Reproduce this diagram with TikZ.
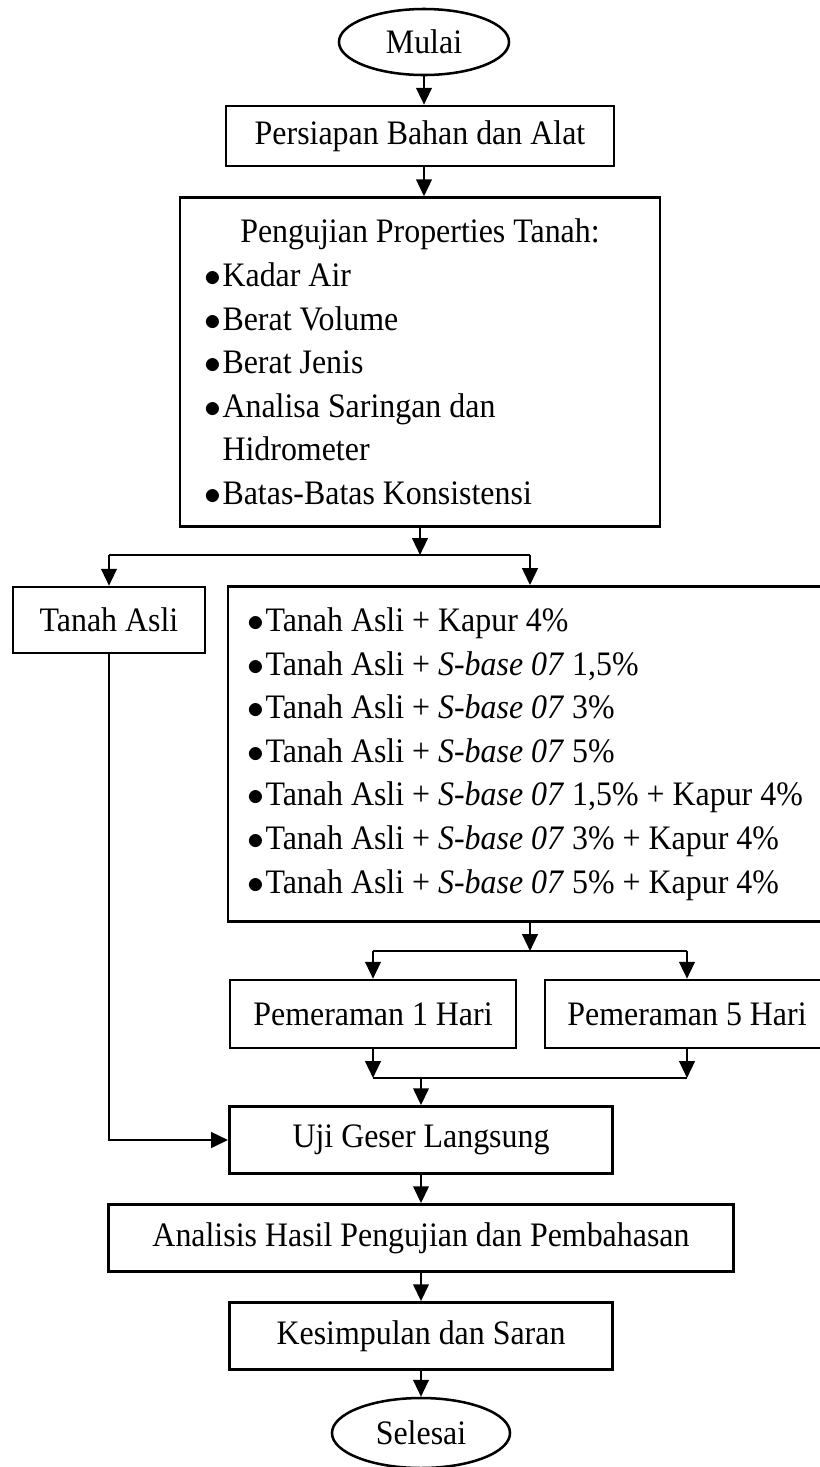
\documentclass[tikz,border=0pt]{standalone}
\usepackage{fontspec}
\setmainfont[FakeStretch=0.93]{Liberation Serif}
\usetikzlibrary{shapes.geometric,arrows.meta}

\newcommand{\btr}{\makebox[0.22cm][l]{$\bullet$}}

\begin{document}
\begin{tikzpicture}[x=0.0125cm, y=-0.0125cm,
    kotak/.style={draw, line width=0.9pt, rectangle, inner sep=0pt, align=center,
        font=\fontsize{12.2}{15.5}\selectfont},
    ujung/.style={draw, line width=0.9pt, ellipse, inner sep=0pt,
        font=\fontsize{12.2}{15.5}\selectfont},
    daftar/.style={kotak, align=flush left},
    panah/.style={line width=0.9pt, -{Triangle[length=6pt,width=5.5pt]}},
    garis/.style={line width=0.9pt}]
    \useasboundingbox (0,0) rectangle (820,1467);

    % Awal
    \node[ujung, minimum width=2.125cm, minimum height=0.825cm] (mulai) at (424,42) {Mulai};
    \node[kotak, minimum width=4.85cm, minimum height=0.75cm] (persiapan) at (420,136) {Persiapan Bahan dan Alat};

    % Pengujian properties
    \node[daftar, text width=5.375cm, inner xsep=0.3125cm, minimum height=4.11cm] (pengujian) at (420,362) {%
        \makebox[5.375cm]{Pengujian Properties Tanah:}\\
        \btr Kadar Air\\
        \btr Berat Volume\\
        \btr Berat Jenis\\
        \btr Analisa Saringan dan\\
        \hspace*{0.22cm}Hidrometer\\
        \btr Batas-Batas Konsistensi};

    % Cabang pertama
    \node[kotak, minimum width=2.4cm, minimum height=0.825cm] (tanah) at (109,620) {Tanah Asli};
    \node[daftar, text width=7.5cm, inner xsep=0.25cm, minimum height=4.19cm] (campuran) at (548,754) {%
        \btr Tanah Asli + Kapur 4\%\\
        \btr Tanah Asli + \textit{S-base 07} 1,5\%\\
        \btr Tanah Asli + \textit{S-base 07} 3\%\\
        \btr Tanah Asli + \textit{S-base 07} 5\%\\
        \btr Tanah Asli + \textit{S-base 07} 1,5\% + Kapur 4\%\\
        \btr Tanah Asli + \textit{S-base 07} 3\% + Kapur 4\%\\
        \btr Tanah Asli + \textit{S-base 07} 5\% + Kapur 4\%};

    % Pemeraman
    \node[kotak, minimum width=3.575cm, minimum height=0.85cm] (hari1) at (373,1014) {Pemeraman 1 Hari};
    \node[kotak, minimum width=3.55cm, minimum height=0.85cm] (hari5) at (687,1014) {Pemeraman 5 Hari};

    % Akhir
    \node[kotak, minimum width=4.79cm, minimum height=0.84cm] (uji) at (421,1140) {Uji Geser Langsung};
    \node[kotak, minimum width=7.81cm, minimum height=0.84cm] (analisis) at (421,1238) {Analisis Hasil Pengujian dan Pembahasan};
    \node[kotak, minimum width=4.79cm, minimum height=0.84cm] (kesimpulan) at (421,1336) {Kesimpulan dan Saran};
    \node[ujung, minimum width=2.225cm, minimum height=0.875cm] (selesai) at (421,1433) {Selesai};

    % Titik cabang
    \coordinate (cabang1) at (420,555);
    \coordinate (cabang2) at (530,951);
    \coordinate (gabung) at (421,1078);

    % Panah
    \draw[panah] (mulai.south) -- (mulai.south |- persiapan.north);
    \draw[panah] (mulai.south |- persiapan.south) -- (mulai.south |- pengujian.north);
    \draw[panah] (pengujian.south) -- (pengujian.south |- cabang1);
    \draw[garis] (tanah.north |- cabang1) -- (cabang2 |- cabang1);
    \draw[panah] (tanah.north |- cabang1) -- (tanah.north);
    \draw[panah] (cabang2 |- cabang1) -- (cabang2 |- campuran.north);

    \draw[panah] (cabang2 |- campuran.south) -- (cabang2);
    \draw[garis] (hari1.north |- cabang2) -- (hari5.north |- cabang2);
    \draw[panah] (hari1.north |- cabang2) -- (hari1.north);
    \draw[panah] (hari5.north |- cabang2) -- (hari5.north);

    \draw[panah] (hari1.south) -- (hari1.south |- gabung);
    \draw[panah] (hari5.south) -- (hari5.south |- gabung);
    \draw[garis] (hari1.south |- gabung) -- (hari5.south |- gabung);
    \draw[panah] (uji.north |- gabung) -- (uji.north);

    \draw[panah] (tanah.south) |- (uji.west);
    \draw[panah] (uji.south) -- (analisis.north);
    \draw[panah] (analisis.south) -- (kesimpulan.north);
    \draw[panah] (kesimpulan.south) -- (selesai.north);
\end{tikzpicture}
\end{document}
